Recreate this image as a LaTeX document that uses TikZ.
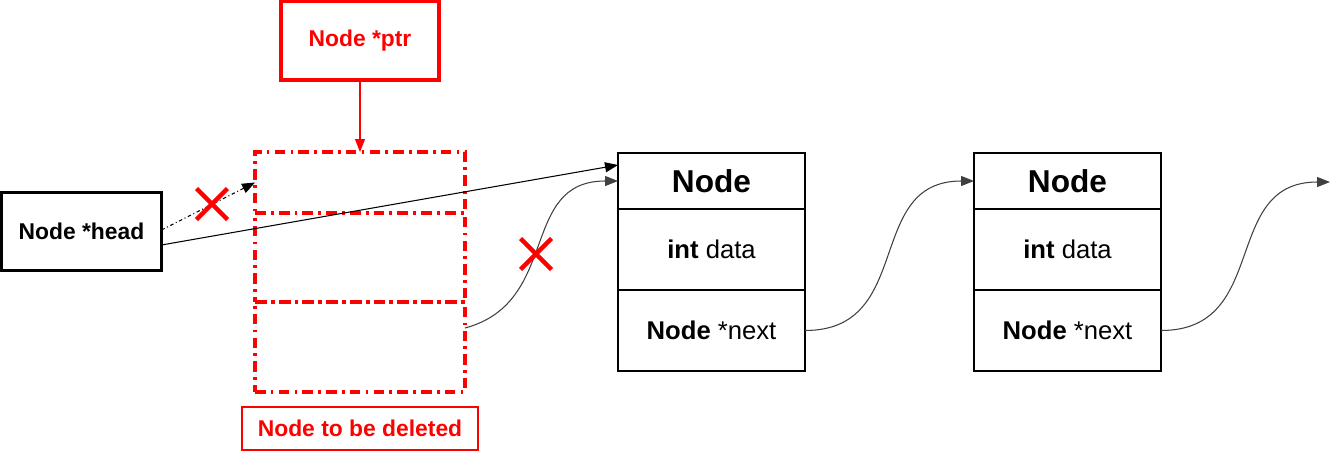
\documentclass[tikz,border=0pt]{standalone}
\usepackage{fontspec}
\setmainfont{Liberation Sans}
\usepackage{tikz}
\usetikzlibrary{positioning, arrows.meta, shapes.misc, calc}

\begin{document}
\begin{tikzpicture}[
    node distance=1cm,
    every node/.style={outer sep=0pt, inner sep=0pt},
    blackbox/.style={rectangle, draw=black, line width=1.5pt, minimum width=3.74cm, align=center, font=\fontsize{14.6}{17}\selectfont},
    titlebox/.style={blackbox, minimum height=1.12cm, font=\fontsize{18}{21}\selectfont\bfseries},
    rowbox/.style={blackbox, minimum height=1.62cm},
    delbox/.style={rectangle, draw=red, line width=2pt, dash pattern=on 6pt off 3pt on 1.5pt off 3pt, minimum width=4.2cm},
    redbox/.style={rectangle, draw=red, line width=2pt, text=red, font=\fontsize{13}{15}\selectfont\bfseries},
    link/.style={-{Triangle[length=2.6mm, width=2mm]}, line width=0.6pt, draw=black},
    crossmark/.style={cross out, draw=red, line width=2.5pt, minimum size=0.62cm}
]
\useasboundingbox (0,0) rectangle (26.84,-9.12);

% Node to be deleted
\node[delbox, minimum height=1.22cm] (del1) at (7.2,-3.65) {};
\node[delbox, minimum height=1.78cm, below=0cm of del1] (del2) {};
\node[delbox, minimum height=1.8cm, below=0cm of del2] (del3) {};
\node[redbox, minimum width=4.72cm, minimum height=0.86cm, line width=1.3pt, below=0.3cm of del3] (dellabel) {Node to be deleted};

% Pointers
\node[redbox, minimum width=3.17cm, minimum height=1.57cm, above=1.44cm of del1] (ptr) {Node *ptr};
\node[rectangle, draw=black, line width=1.6pt, minimum width=3.2cm, minimum height=1.56cm, font=\fontsize{13}{15}\selectfont\bfseries] (head) at (1.63,-4.63) {Node *head};

% List nodes
\node[titlebox] (n1title) at (14.23,-3.62) {Node};
\node[rowbox, below=0cm of n1title] (n1data) {\textbf{int} data};
\node[rowbox, below=0cm of n1data] (n1next) {\textbf{Node} *next};
\node[titlebox, right=3.38cm of n1title] (n2title) {Node};
\node[rowbox, below=0cm of n2title] (n2data) {\textbf{int} data};
\node[rowbox, below=0cm of n2data] (n2next) {\textbf{Node} *next};
\coordinate (tail) at (26.6,-3.64);

% Links
\draw[link, draw=red, red] (ptr.south) -- (del1.north);
\draw[link, line width=0.6pt, dash pattern=on 2pt off 1.5pt on 0.6pt off 1.5pt] ($(head.east)+(0,0.03)$) -- (del1.west);
\draw[link] ($(head.east)+(0,-0.27)$) -- ($(n1title.west)+(0,0.32)$);
\draw[link, draw=black!75] ($(del3.east)+(0,0.38)$) to[out=15, in=180, looseness=1.2] (n1title.west);
\draw[link, draw=black!75] (n1next.east) to[out=0, in=180, looseness=1.25] (n2title.west);
\draw[link, draw=black!75] (n2next.east) to[out=0, in=180, looseness=1.25] (tail);

% Broken links
\node[crossmark] (cross1) at (4.24,-4.08) {};
\node[crossmark] (cross2) at (10.72,-5.08) {};

\end{tikzpicture}
\end{document}
